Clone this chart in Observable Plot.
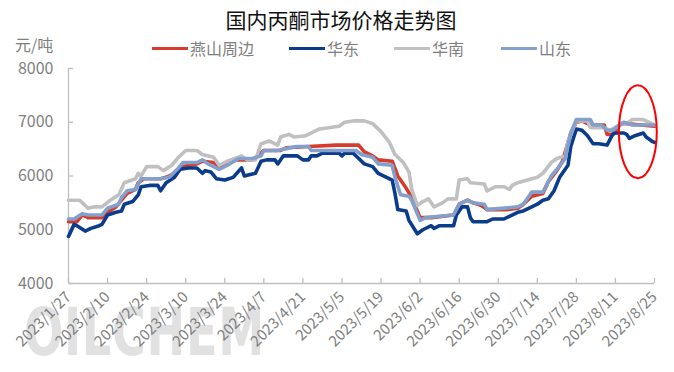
<!DOCTYPE html>
<html><head><meta charset="utf-8">
<script src="https://cdn.jsdelivr.net/npm/d3@7"></script>
<script src="https://cdn.jsdelivr.net/npm/@observablehq/plot@0.6"></script>
<style>
body{margin:0;background:#fff;}
#wrap{position:relative;width:674px;height:372px;overflow:hidden;font-family:"Noto Sans CJK SC","Noto Sans",sans-serif;}
.abs{position:absolute;white-space:nowrap;}
#wm{left:24px;top:294px;font-size:66px;line-height:77px;height:77px;font-weight:bold;color:rgba(175,175,175,0.38);transform:scaleX(0.7);transform-origin:left top;letter-spacing:1px;font-family:"DejaVu Sans",sans-serif;}
#title{left:4px;width:674px;top:6px;text-align:center;font-size:21px;line-height:27px;color:#111;}
#unit{left:15px;top:35px;font-size:16px;line-height:18px;color:#7f7f7f;}
.sw{position:absolute;height:3.5px;width:36px;}
.lt{position:absolute;font-size:16px;line-height:18px;color:#7f7f7f;}
</style></head><body>
<div id="wrap">
 <div class="abs" id="wm">OILCHEM</div>
 <div id="chart" class="abs" style="left:0;top:0"></div>
 <div class="abs" id="title">国内丙酮市场价格走势图</div>
 <div class="abs" id="unit">元/吨</div>
 <div id="legend"></div>
</div>
<script>
// ---- data ----
const seriesNames = ["燕山周边", "华东", "华南", "山东"];
const seriesColors = ["#d63b2c", "#0b3c8c", "#c0c0c0", "#839fcb"];
const xStart = "2023-01-27", xEnd = "2023-08-25";
const xTicks = ["2023-01-27","2023-02-10","2023-02-24","2023-03-10","2023-03-24","2023-04-07","2023-04-21","2023-05-05","2023-05-19","2023-06-02","2023-06-16","2023-06-30","2023-07-14","2023-07-28","2023-08-11","2023-08-25"];
const yTicks = [4000, 5000, 6000, 7000, 8000];

const yanshan = [["2023-01-27",5150],["2023-01-30",5150],["2023-02-01",5275],["2023-02-03",5225],["2023-02-08",5225],["2023-02-10",5325],["2023-02-13",5425],["2023-02-15",5550],["2023-02-17",5675],["2023-02-20",5750],["2023-02-21",5875],["2023-02-23",5950],["2023-03-01",5950],["2023-03-03",5975],["2023-03-06",6050],["2023-03-09",6175],["2023-03-14",6225],["2023-03-16",6275],["2023-03-20",6250],["2023-03-22",6175],["2023-03-23",6175],["2023-03-28",6300],["2023-04-03",6300],["2023-04-07",6475],["2023-04-13",6475],["2023-04-15",6525],["2023-04-23",6550],["2023-05-03",6575],["2023-05-11",6575],["2023-05-13",6450],["2023-05-16",6375],["2023-05-18",6300],["2023-05-23",6275],["2023-05-25",6000],["2023-05-28",5775],["2023-05-30",5600],["2023-06-02",5225],["2023-06-06",5225],["2023-06-14",5275],["2023-06-16",5475],["2023-06-19",5550],["2023-06-21",5500],["2023-06-24",5450],["2023-06-26",5375],["2023-07-03",5375],["2023-07-07",5400],["2023-07-09",5475],["2023-07-12",5625],["2023-07-16",5675],["2023-07-18",5900],["2023-07-21",6100],["2023-07-23",6275],["2023-07-26",6800],["2023-07-28",7000],["2023-07-30",7025],["2023-08-02",6950],["2023-08-07",6950],["2023-08-08",6775],["2023-08-10",6775],["2023-08-13",6975],["2023-08-15",6975],["2023-08-20",6950],["2023-08-25",6925]];

const huadong = [["2023-01-27",4875],["2023-01-29",5100],["2023-01-30",5075],["2023-02-02",4975],["2023-02-04",5025],["2023-02-07",5075],["2023-02-08",5100],["2023-02-10",5275],["2023-02-13",5325],["2023-02-15",5350],["2023-02-16",5475],["2023-02-19",5525],["2023-02-21",5650],["2023-02-22",5800],["2023-02-25",5825],["2023-02-28",5825],["2023-03-01",5725],["2023-03-03",5875],["2023-03-06",5975],["2023-03-08",6125],["2023-03-11",6150],["2023-03-14",6150],["2023-03-16",6050],["2023-03-17",6100],["2023-03-19",6075],["2023-03-21",5950],["2023-03-24",5925],["2023-03-27",5975],["2023-03-30",6150],["2023-03-31",6000],["2023-04-04",6050],["2023-04-06",6275],["2023-04-08",6300],["2023-04-11",6300],["2023-04-12",6225],["2023-04-14",6375],["2023-04-19",6375],["2023-04-21",6300],["2023-04-23",6300],["2023-04-24",6375],["2023-04-26",6375],["2023-04-28",6425],["2023-05-04",6425],["2023-05-05",6375],["2023-05-06",6425],["2023-05-09",6425],["2023-05-11",6325],["2023-05-13",6225],["2023-05-16",6175],["2023-05-18",6050],["2023-05-21",5975],["2023-05-23",5925],["2023-05-24",5675],["2023-05-25",5375],["2023-05-28",5350],["2023-05-29",5175],["2023-06-01",4925],["2023-06-03",5000],["2023-06-06",5075],["2023-06-07",5025],["2023-06-09",5075],["2023-06-14",5075],["2023-06-15",5275],["2023-06-17",5425],["2023-06-19",5425],["2023-06-20",5225],["2023-06-21",5150],["2023-06-26",5150],["2023-06-28",5200],["2023-07-02",5200],["2023-07-04",5250],["2023-07-07",5325],["2023-07-09",5350],["2023-07-12",5425],["2023-07-14",5475],["2023-07-16",5550],["2023-07-18",5575],["2023-07-20",5725],["2023-07-21",5850],["2023-07-22",5975],["2023-07-25",6200],["2023-07-26",6550],["2023-07-28",6875],["2023-07-30",6850],["2023-08-01",6750],["2023-08-03",6600],["2023-08-05",6600],["2023-08-08",6575],["2023-08-10",6775],["2023-08-11",6800],["2023-08-14",6800],["2023-08-15",6775],["2023-08-16",6700],["2023-08-18",6750],["2023-08-21",6800],["2023-08-22",6725],["2023-08-24",6650],["2023-08-25",6625]];

const huanan = [["2023-01-27",5550],["2023-01-31",5550],["2023-02-03",5400],["2023-02-05",5425],["2023-02-08",5425],["2023-02-11",5550],["2023-02-14",5650],["2023-02-16",5875],["2023-02-20",5950],["2023-02-21",6050],["2023-02-22",6000],["2023-02-24",6175],["2023-02-28",6175],["2023-03-02",6100],["2023-03-05",6200],["2023-03-07",6325],["2023-03-10",6475],["2023-03-14",6475],["2023-03-16",6400],["2023-03-20",6350],["2023-03-22",6200],["2023-03-25",6275],["2023-03-30",6375],["2023-04-01",6300],["2023-04-04",6300],["2023-04-06",6600],["2023-04-09",6650],["2023-04-12",6575],["2023-04-13",6725],["2023-04-16",6775],["2023-04-18",6725],["2023-04-22",6750],["2023-04-27",6875],["2023-05-04",6925],["2023-05-06",7000],["2023-05-09",7025],["2023-05-13",7025],["2023-05-16",6975],["2023-05-19",6825],["2023-05-22",6625],["2023-05-24",6400],["2023-05-27",6250],["2023-05-29",6075],["2023-05-30",5750],["2023-06-01",5450],["2023-06-03",5525],["2023-06-05",5575],["2023-06-07",5425],["2023-06-10",5500],["2023-06-12",5575],["2023-06-15",5575],["2023-06-16",5925],["2023-06-19",5950],["2023-06-20",5875],["2023-06-25",5850],["2023-06-26",5725],["2023-06-29",5800],["2023-07-02",5800],["2023-07-04",5750],["2023-07-05",5825],["2023-07-07",5875],["2023-07-12",5950],["2023-07-14",5975],["2023-07-16",6050],["2023-07-19",6250],["2023-07-21",6325],["2023-07-24",6375],["2023-07-25",6650],["2023-07-28",7025],["2023-08-01",7025],["2023-08-02",6900],["2023-08-07",6900],["2023-08-09",6850],["2023-08-10",6875],["2023-08-13",6975],["2023-08-15",6975],["2023-08-17",7050],["2023-08-21",7050],["2023-08-25",6950]];

const shandong = [["2023-01-27",5200],["2023-01-29",5200],["2023-02-01",5300],["2023-02-03",5275],["2023-02-08",5275],["2023-02-10",5400],["2023-02-14",5475],["2023-02-15",5600],["2023-02-17",5725],["2023-02-20",5750],["2023-02-22",5950],["2023-03-01",5950],["2023-03-04",5975],["2023-03-07",6125],["2023-03-09",6250],["2023-03-14",6250],["2023-03-16",6300],["2023-03-18",6225],["2023-03-20",6175],["2023-03-22",6125],["2023-03-25",6200],["2023-03-29",6325],["2023-04-03",6325],["2023-04-06",6375],["2023-04-07",6475],["2023-04-12",6475],["2023-04-14",6500],["2023-04-19",6550],["2023-04-23",6550],["2023-04-24",6475],["2023-05-10",6475],["2023-05-12",6400],["2023-05-16",6350],["2023-05-18",6225],["2023-05-23",6200],["2023-05-24",5975],["2023-05-26",5650],["2023-05-29",5625],["2023-05-30",5550],["2023-06-02",5175],["2023-06-04",5225],["2023-06-14",5275],["2023-06-16",5475],["2023-06-19",5550],["2023-06-21",5500],["2023-06-25",5475],["2023-06-26",5375],["2023-07-07",5425],["2023-07-09",5475],["2023-07-12",5700],["2023-07-16",5700],["2023-07-19",6000],["2023-07-21",6125],["2023-07-24",6325],["2023-07-26",6800],["2023-07-28",7050],["2023-08-02",7050],["2023-08-03",6950],["2023-08-06",6950],["2023-08-08",6850],["2023-08-10",6850],["2023-08-14",7000],["2023-08-17",6950],["2023-08-25",6950]];

// annotation: highlighted recent period (ellipse bounds in data space)
const highlight = {x1: "2023-08-12T10:00", x2: "2023-08-26", y1: 5950, y2: 7680};

// ---- build ----
const parse = s => new Date(s.length > 10 ? s + "Z" : s + "T00:00Z");
const allSeries = [yanshan, huadong, huanan, shandong];
const rows = allSeries.map((arr, i) => arr.map(([d, v]) => ({series: seriesNames[i], date: parse(d), value: v})));

const W = 674, H = 372, mL = 68, mR = 20, mT = 68, mB = 89;
const innerW = W - mL - mR, innerH = H - mT - mB;
const axisColor = "#bfbfbf";

const plot = Plot.plot({
  width: W, height: H,
  marginLeft: mL, marginRight: mR, marginTop: mT, marginBottom: mB,
  style: {fontFamily: '"Noto Sans CJK SC","Noto Sans",sans-serif', background: "transparent", color: "#7f7f7f", overflow: "visible"},
  x: {type: "utc", domain: [parse(xStart), parse(xEnd)]},
  y: {domain: [4000, 8000]},
  marks: [
    Plot.axisY({ticks: yTicks, tickSize: 0, tickPadding: 15, fontSize: 16, tickFormat: d => String(d), label: null}),
    Plot.axisX({ticks: xTicks.map(parse), tickSize: 0, tickPadding: 11, tickRotate: -45, fontSize: 15, tickFormat: d3.utcFormat("%Y/%-m/%-d"), label: null}),
    Plot.ruleX([parse(xStart)], {stroke: axisColor, strokeWidth: 1.3}),
    Plot.ruleY([4000], {stroke: axisColor, strokeWidth: 1.3}),
    Plot.tickY(yTicks, {y: d => d, stroke: axisColor, strokeWidth: 1.3, insetRight: innerW - 5}),
    Plot.tickX(xTicks.map(parse), {x: d => d, stroke: axisColor, strokeWidth: 1.3, insetTop: innerH - 5}),
    ...rows.map((r, i) => Plot.line(r, {x: "date", y: "value", stroke: seriesColors[i], strokeWidth: 3.6, strokeLinejoin: "round"})),
    (index, scales) => {
      const x1 = scales.x(parse(highlight.x1)), x2 = scales.x(parse(highlight.x2));
      const y1 = scales.y(highlight.y1), y2 = scales.y(highlight.y2);
      const e = document.createElementNS("http://www.w3.org/2000/svg", "ellipse");
      e.setAttribute("cx", (x1 + x2) / 2);
      e.setAttribute("cy", (y1 + y2) / 2);
      e.setAttribute("rx", Math.abs(x2 - x1) / 2);
      e.setAttribute("ry", Math.abs(y1 - y2) / 2);
      e.setAttribute("fill", "none");
      e.setAttribute("stroke", "#ff0000");
      e.setAttribute("stroke-width", 2);
      return e;
    }
  ]
});
document.getElementById("chart").appendChild(plot);

// legend
const legendX = [152, 289, 394, 501];
const lg = document.getElementById("legend");
seriesNames.forEach((n, i) => {
  const sw = document.createElement("div");
  sw.className = "sw";
  sw.style.left = legendX[i] + "px";
  sw.style.top = "46.5px";
  sw.style.background = seriesColors[i];
  lg.appendChild(sw);
  const t = document.createElement("div");
  t.className = "lt";
  t.style.left = (legendX[i] + 38) + "px";
  t.style.top = "39px";
  t.textContent = n;
  lg.appendChild(t);
});
</script>
</body></html>
